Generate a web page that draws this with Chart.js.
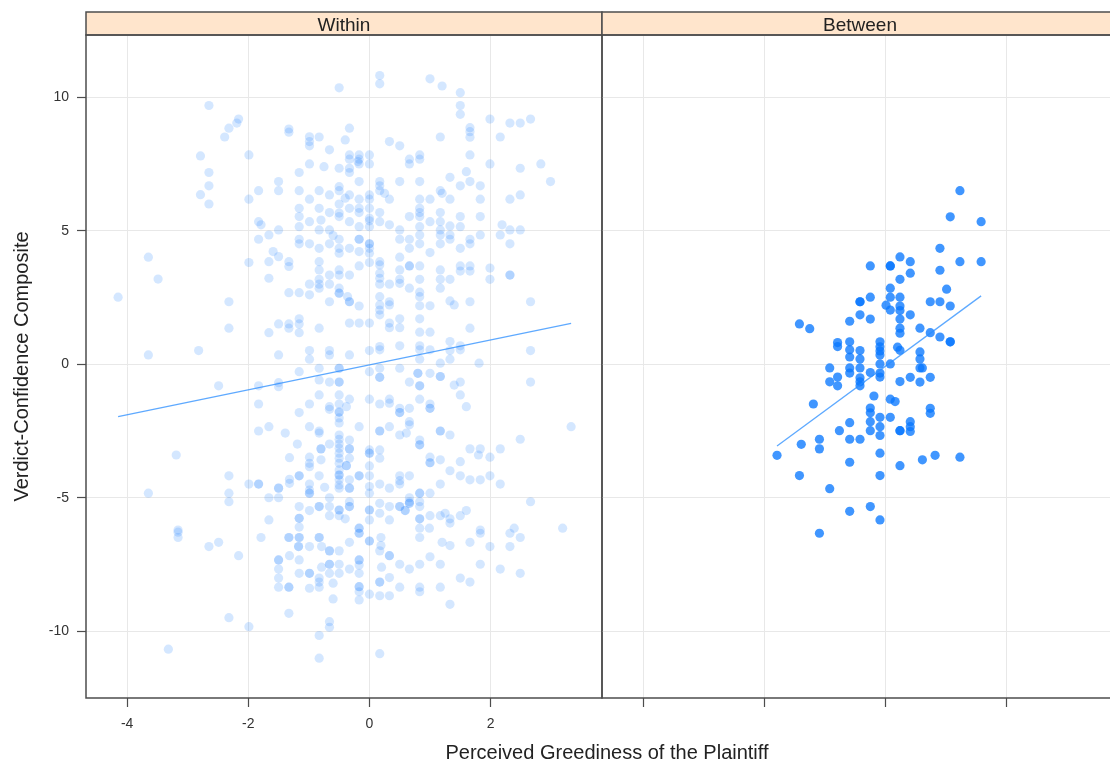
<!DOCTYPE html>
<html>
<head>
<meta charset="utf-8">
<title>Verdict confidence by perceived greediness</title>
<script src="https://cdn.jsdelivr.net/npm/chart.js@4.4.1/dist/chart.umd.min.js"></script>
<style>
  html, body { margin: 0; padding: 0; background: #ffffff; overflow: hidden; }
  #wrap { position: relative; width: 1110px; height: 764px; overflow: hidden; }
  canvas { position: absolute; top: 0; }
  #within { left: 0; }
  #between { left: 592px; }
  #xtitle {
    position: absolute; left: 307px; width: 600px; top: 741px;
    text-align: center; color: #222;
    font: 20px "Liberation Sans", Arial, sans-serif; line-height: 22px;
  }
</style>
</head>
<body>
<div id="wrap">
  <canvas id="within" width="612" height="764"></canvas>
  <canvas id="between" width="540" height="764"></canvas>
  <div id="xtitle">Perceived Greediness of the Plaintiff</div>
</div>
<script>
// ---- data -------------------------------------------------------------
const panelLabels = ['Within', 'Between'];
const xTicks = [-4, -2, 0, 2];
const yTicks = [-10, -5, 0, 5, 10];
const xRange = [-4.68, 3.84];
const yRange = [-12.5, 12.33];

// within-person deviations: [greediness, verdict-confidence]
const withinPoints = [
  [0.17,10.81],[0.17,10.50],[-0.50,10.35],[1.00,10.69],[1.20,10.42],[1.50,10.17],[1.50,9.69],[1.50,9.36],
  [-2.65,9.69],[-2.16,9.18],[-2.19,9.03],[-2.32,8.84],[-2.39,8.51],[-1.33,8.81],[-1.33,8.69],[-0.99,8.52],
  [-0.99,8.34],[-0.99,8.18],[-0.83,8.51],[-0.33,8.84],[-0.40,8.40],[-0.66,8.03],
  [1.99,9.18],[2.32,9.03],[2.49,9.03],[2.66,9.18],[1.66,8.86],[1.66,8.71],[1.66,8.50],[1.17,8.51],[2.16,8.51],
  [0.33,8.34],[0.50,8.18],
  [-2.79,7.80],[-2.65,7.18],[-2.65,6.68],[-2.79,6.35],[-2.65,6.00],[-1.99,7.84],[-1.99,6.18],[-1.83,6.50],
  [-1.50,6.84],[-1.50,6.50],[-1.16,7.18],[-1.16,6.50],[-1.16,5.84],[-1.16,5.53],[-0.99,7.50],[-0.99,6.18],
  [-0.83,6.50],[-0.83,5.84],[-0.75,7.40],[-0.66,6.34],[-0.66,5.68],
  [-0.50,7.34],[-0.50,6.65],[-0.50,6.50],[-0.50,6.00],[-0.50,5.66],[-0.50,5.53],
  [-0.33,7.84],[-0.33,7.68],[-0.33,7.34],[-0.33,7.18],[-0.33,6.34],[-0.40,6.22],[-0.33,5.84],
  [-0.17,7.84],[-0.17,7.68],[-0.19,7.59],[-0.17,7.50],[-0.17,6.84],[-0.17,6.18],[-0.17,5.84],[-0.17,5.68],
  [0,7.84],[0,7.50],[0,6.34],[0,6.18],[0,5.84],[0,5.47],
  [0.17,6.84],[0.17,6.68],[0.17,6.50],[0.25,6.40],[0.33,6.18],[0.17,5.68],[0.50,6.84],[0.66,7.68],[0.66,7.50],
  [0.83,7.84],[0.83,7.68],[0.83,6.84],[0.83,6.18],[0.83,5.84],[0.83,5.68],[0.83,5.53],[0.66,5.53],
  [1.00,6.18],[1.17,6.50],[1.20,6.40],[1.17,5.68],[1.33,7.00],[1.33,6.18],[1.50,6.68],[1.50,5.53],
  [1.60,7.21],[1.66,7.84],[1.66,6.84],[1.83,6.68],[1.83,6.18],[1.83,5.53],[1.99,7.50],[2.32,6.18],
  [2.49,7.34],[2.49,6.34],[2.83,7.50],[2.99,6.84],
  [0,5.37],[-0.99,5.34],[-0.80,5.40],[-0.33,5.34],[-0.17,5.15],[0,5.15],[0.17,5.34],[0.33,5.22],
  [0.83,5.15],[1.00,5.34],[1.17,5.34],[1.33,5.18],[1.50,5.15],[2.19,5.22],[2.32,5.03],[2.49,5.03],
  [2.16,4.84],[2.32,4.51],[-1.83,5.34],[-1.79,5.22],[-1.50,5.03],[-1.66,4.84],[-1.83,4.68],
  [-1.16,5.15],[-0.83,5.03],[-0.66,5.03],[-0.60,4.82],[-1.16,4.68],[-1.16,4.51],[-0.99,4.51],[-0.83,4.34],
  [-0.66,4.51],[-0.50,4.68],[-0.50,4.34],[-0.50,4.16],[-0.33,4.34],[-0.17,4.68],[-0.17,4.68],[-0.17,4.22],
  [0,4.51],[0,4.51],[0,4.34],[0,4.16],[0,3.81],[-0.17,3.68],
  [0.17,3.84],[0.17,3.72],[0.17,3.41],[0.17,3.22],[0.17,3.00],[0.17,2.53],[0.17,2.22],[0.17,2.03],[0.17,1.85],
  [0.50,5.03],[0.50,4.68],[0.66,4.68],[0.66,4.34],[0.83,4.84],[0.83,4.51],[1.00,4.18],
  [1.17,5.03],[1.17,4.84],[1.17,4.51],[1.33,4.84],[1.33,4.68],[1.50,4.34],[1.66,4.68],[1.66,4.51],[1.83,4.84],
  [0.50,4.01],[0.50,3.53],[0.50,3.18],[0.50,3.03],[0.66,3.68],[0.66,3.68],[0.66,2.85],[0.83,3.68],[0.83,3.18],
  [0.83,2.70],[0.83,2.53],[0.83,2.19],[1.00,2.19],[1.17,3.53],[1.17,3.18],[1.17,2.85],[1.33,3.18],
  [1.33,2.37],[1.40,2.22],[1.50,3.68],[1.50,3.49],[1.66,3.68],[1.66,3.49],[1.66,2.34],[1.99,3.60],
  [1.99,3.18],[2.32,3.34],[2.32,3.34],[2.66,2.34],
  [0.33,3.00],[0.33,2.34],[0.33,2.22],[0.33,1.54],[0.33,1.37],[0.50,1.70],[0.50,1.37],[0.83,1.70],
  [0.83,1.20],[1.00,1.20],[1.66,1.35],
  [-3.65,4.01],[-3.49,3.19],[-4.15,2.51],[-2.32,2.34],[-2.32,1.35],[-3.65,0.35],[-2.82,0.51],
  [-1.99,3.81],[-1.66,3.84],[-1.59,4.22],[-1.50,4.03],[-1.33,3.84],[-1.33,3.66],[-1.66,3.22],
  [-1.33,2.68],[-1.16,2.68],[-0.99,2.60],[-0.99,3.00],[-0.83,3.84],[-0.83,3.53],[-0.83,3.00],
  [-0.83,3.18],[-0.83,2.85],[-0.66,3.34],[-0.66,3.00],[-0.50,3.53],[-0.50,3.34],[-0.33,3.34],
  [-0.50,2.85],[-0.50,2.66],[-0.50,2.66],[-0.36,2.53],[-0.33,2.34],[-0.33,2.34],[-0.66,2.34],[-0.17,2.18],
  [-1.50,1.51],[-1.66,1.18],[-1.33,1.51],[-1.33,1.35],[-1.16,1.70],[-1.16,1.51],[-1.16,1.18],[-0.83,1.35],
  [-0.33,1.54],[-0.17,1.54],[0,1.54],[0.17,0.66],[0.17,0.54],[0,0.51],[0.50,0.69],[0.83,0.69],
  [0.83,0.54],[1.00,0.54],[0.83,0.19],[1.17,0.04],[1.33,0.85],[1.33,0.51],[1.33,0.19],[1.50,0.69],
  [1.50,0.54],[1.81,0.04],[2.66,0.51],[-1.50,0.35],[-0.99,0.51],[-0.99,0.19],[-0.66,0.51],[-0.66,0.35],
  [-0.33,0.35],[-0.83,-0.15],[-0.50,-0.15],[-0.50,-0.15],[-1.16,-0.28],[0,-0.28],[0.17,-0.15],
  [0.50,-0.15],[0.80,-0.34],[0.80,-0.34],[1.00,-0.34],
  [-2.49,-0.81],[-1.83,-0.81],[-1.50,-0.69],[-1.50,-0.84],[-0.83,-0.59],[-0.66,-0.67],[-0.50,-0.67],
  [-0.50,-0.67],[0.17,-0.49],[0.17,-0.49],[0.66,-0.67],[0.83,-0.81],[0.83,-0.81],[1.17,-0.46],[1.17,-0.46],
  [1.40,-0.78],[1.50,-0.67],[1.50,-1.15],[1.60,-1.59],[2.66,-0.67],
  [-1.83,-1.49],[-0.83,-1.15],[-0.99,-1.49],[-1.16,-1.81],[-0.66,-1.59],[-0.66,-1.69],
  [-0.50,-1.15],[-0.50,-1.49],[-0.50,-1.79],[-0.50,-1.79],[-0.50,-2.01],[-0.50,-2.20],[-0.38,-1.59],
  [-0.33,-1.31],[0,-1.31],[0.17,-1.49],[0.33,-1.31],[0.33,-1.46],[0.50,-1.65],[0.50,-1.81],[0.50,-1.81],
  [0.66,-1.65],[0.83,-1.31],[1.00,-1.49],[1.00,-1.65],[1.00,-1.65],[0.66,-2.15],[0.66,-2.27],
  [-1.83,-2.50],[-1.66,-2.34],[-1.39,-2.58],[-0.99,-2.34],[-0.83,-2.50],[-0.83,-2.58],[-0.17,-2.34],
  [0.17,-2.50],[0.17,-2.50],[0.33,-2.34],[0.50,-2.65],[0.61,-2.58],[1.17,-2.50],[1.17,-2.50],[1.33,-2.65],
  [0.83,-2.84],[0.83,-3.02],[0.83,-3.02],[-1.19,-2.99],[-0.66,-2.99],
  [-0.50,-2.65],[-0.50,-2.81],[-0.50,-2.99],[-0.50,-3.15],[-0.50,-3.33],[-0.50,-3.52],[-0.50,-3.71],
  [-0.50,-3.96],[-0.50,-4.15],[-0.50,-4.15],[-0.50,-4.33],[-0.50,-4.52],[-0.50,-4.64],
  [-0.33,-2.84],[-0.33,-3.17],[-0.33,-3.17],[-0.33,-3.52],[-0.38,-3.80],[-0.38,-3.80],[-0.80,-3.17],[-0.80,-3.17],
  [-0.80,-3.58],[-0.99,-3.48],[-0.99,-3.71],[-0.99,-3.84],[-1.32,-3.50],[-1.16,-4.18],[-1.16,-4.18],
  [-0.83,-4.18],[-0.99,-4.49],[-0.99,-4.71],[-0.99,-4.83],[-0.99,-4.83],[-1.32,-4.31],[-1.32,-4.46],
  [-1.50,-4.64],[-1.50,-4.64],[-1.83,-4.49],[-1.83,-4.49],[-1.99,-4.49],[-2.32,-4.18],[-2.32,-4.83],[-2.32,-5.15],
  [-1.66,-5.00],[-1.50,-5.00],[-3.19,-3.40],[-3.65,-4.83],[-0.74,-4.61],[-0.66,-5.00],
  [-0.33,-4.33],[-0.33,-4.64],[-0.33,-4.64],[-0.17,-4.18],[-0.17,-4.18],[0,-3.21],[0,-3.33],[0,-3.33],[0,-3.81],
  [0,-4.18],[0,-4.58],[0,-4.83],[0.17,-3.21],[0.17,-3.52],[0.17,-4.49],[0.33,-4.64],
  [0.50,-4.18],[0.50,-4.36],[0.50,-4.49],[0.66,-4.18],[0.83,-4.83],[0.83,-4.83],[0.66,-5.00],[0.66,-5.21],
  [0.66,-5.21],[1.00,-3.48],[1.00,-3.69],[1.00,-3.69],[1.17,-3.58],[1.00,-4.83],[1.17,-4.49],[1.33,-3.99],
  [1.50,-3.65],[1.50,-4.18],[1.66,-3.17],[1.66,-4.33],[1.83,-3.17],[1.80,-3.40],[1.83,-4.33],
  [1.99,-3.48],[1.99,-4.18],[2.16,-3.17],[2.16,-4.49],[2.49,-2.81],[3.33,-2.34],[2.66,-5.15],
  [-1.16,-5.33],[-0.83,-5.33],[-0.83,-5.33],[-0.66,-5.33],[-0.66,-5.67],[-0.50,-5.46],[-0.50,-5.46],
  [-0.33,-5.15],[-0.33,-5.33],[-0.33,-5.33],[-0.50,-5.67],[-0.40,-5.79],[0,-5.46],[0,-5.46],[0,-5.83],
  [0.17,-5.21],[0.17,-5.58],[0.33,-5.33],[0.33,-5.83],[0.50,-5.33],[0.50,-5.33],[0.59,-5.48],[0.59,-5.48],
  [0.66,-5.15],[0.83,-5.15],[0.83,-5.33],[0.83,-5.79],[0.83,-5.79],[1.00,-5.67],[1.17,-5.67],[1.25,-5.58],
  [1.33,-5.79],[1.33,-5.95],[1.50,-5.67],[1.60,-5.48],[-1.16,-5.77],[-1.16,-5.77],[-0.99,-5.48],
  [-1.66,-5.83],[-0.17,-6.14],[-0.17,-6.14],[-1.16,-6.10],[0.83,-6.14],[0.99,-6.14],[2.39,-6.14],
  [3.19,-6.14],[1.83,-6.21],[-3.16,-6.21],
  [-3.16,-6.29],[-3.16,-6.49],[-2.65,-6.83],[-2.49,-6.67],[-2.16,-7.17],[-1.79,-6.49],
  [-1.33,-6.49],[-1.33,-6.49],[-1.16,-6.49],[-1.16,-6.49],[-1.17,-6.83],[-1.17,-6.83],[-0.99,-6.83],
  [-0.83,-6.49],[-0.83,-6.49],[-0.79,-6.83],[-0.66,-6.99],[-0.66,-6.99],[-0.50,-6.99],[-0.33,-6.67],
  [-0.17,-6.33],[-0.17,-6.33],[0,-6.62],[0,-6.62],[0.19,-6.49],[0.19,-6.79],[0.17,-6.99],
  [0.33,-7.17],[0.33,-7.17],[0.83,-6.49],[1.20,-6.67],[1.33,-6.79],[1.66,-6.67],[1.83,-6.33],[1.99,-6.83],
  [2.32,-6.33],[2.32,-6.83],[2.49,-6.49],
  [-1.50,-7.33],[-1.50,-7.33],[-1.50,-7.67],[-1.50,-8.01],[-1.50,-8.35],[-1.32,-7.17],[-1.33,-8.35],
  [-1.33,-8.35],[-1.16,-7.33],[-1.16,-7.83],[-0.99,-7.83],[-0.99,-7.83],[-0.99,-8.39],[-0.83,-8.01],
  [-0.83,-8.16],[-0.83,-8.35],[-0.79,-7.60],[-0.66,-7.49],[-0.66,-7.49],[-0.66,-7.83],[-0.60,-8.20],
  [-0.60,-8.79],[-0.50,-7.49],[-0.50,-7.83],[-0.33,-7.67],[-0.17,-7.33],[-0.17,-7.33],[-0.17,-7.52],
  [-0.17,-7.83],[-0.17,-8.33],[-0.17,-8.33],[-0.17,-8.52],[-0.17,-8.83],[0,-8.61],[0.17,-8.16],
  [0.17,-8.16],[0.17,-8.67],[0.20,-7.60],[0.33,-7.99],[0.33,-8.67],[0.50,-7.49],[0.50,-8.35],
  [0.66,-7.67],[0.83,-7.49],[0.83,-8.35],[0.83,-8.52],[1.00,-7.21],[1.17,-7.49],[1.17,-8.35],
  [1.33,-8.99],[1.50,-8.01],[1.66,-8.16],[1.83,-7.49],[2.16,-7.67],[2.49,-7.83],
  [-1.33,-9.33],[-2.32,-9.49],[-1.99,-9.83],[-0.66,-9.64],[-0.66,-9.85],[-0.83,-10.16],[-3.32,-10.67],
  [-0.83,-11.01],[0.17,-10.84]
];

// person-level means: [greediness, verdict-confidence]
const betweenPoints = [
  [1.23,6.50],[1.07,5.52],[1.58,5.34],[0.90,4.34],[1.23,3.84],[1.58,3.84],[0.90,3.52],[0.24,4.02],
  [0.41,3.84],[0.41,3.41],[-0.25,3.68],[0.08,3.68],[0.08,3.68],[0.24,3.18],[0.08,2.85],[1.01,2.81],
  [-0.25,2.51],[0.08,2.51],[0.24,2.51],[-0.42,2.34],[-0.42,2.34],[0.74,2.34],[0.90,2.34],[1.07,2.18],
  [0.01,2.21],[0.08,2.03],[0.24,2.18],[0.24,2.01],[-0.42,1.85],[-0.25,1.69],[0.41,1.85],[0.24,1.69],
  [-0.59,1.61],[-1.42,1.51],[-1.25,1.33],[0.24,1.35],[0.24,1.16],[0.57,1.35],[0.74,1.18],[0.90,1.02],
  [1.07,0.84],[1.07,0.84],[-0.79,0.81],[-0.79,0.66],
  [-0.59,0.84],[-0.59,0.54],[-0.59,0.27],[-0.59,-0.14],[-0.59,-0.33],
  [-0.42,0.51],[-0.42,0.20],[-0.42,-0.14],[-0.42,-0.51],[-0.42,-0.66],[-0.42,-0.81],
  [-0.09,0.84],[-0.09,0.65],[-0.09,0.50],[-0.09,0.35],[-0.09,0.01],[-0.09,-0.33],[-0.09,-0.48],
  [0.20,0.64],[0.24,0.52],[0.57,0.46],[0.57,0.20],[0.57,-0.14],[0.61,-0.14],
  [-0.92,-0.14],[-0.92,-0.66],[-0.79,-0.48],[-0.79,-0.81],[-0.25,-0.31],[0.08,0.01],[0.24,-0.65],
  [0.41,-0.49],[0.57,-0.67],[0.74,-0.49],
  [-0.19,-1.19],[0.08,-1.31],[0.16,-1.40],[-1.19,-1.49],[-0.25,-1.64],[-0.25,-1.82],[-0.09,-1.99],
  [0.08,-1.99],[-0.25,-2.15],[-0.59,-2.19],[-0.09,-2.34],[-0.25,-2.49],[-0.09,-2.67],[-0.76,-2.49],
  [0.24,-2.49],[0.24,-2.49],[0.41,-2.15],[0.41,-2.34],[0.41,-2.52],[0.74,-1.65],[0.74,-1.84],
  [-0.59,-2.81],[-0.42,-2.81],[-1.09,-2.81],[-1.09,-3.17],[-1.39,-3.00],[-1.79,-3.41],[-0.09,-3.33],
  [0.82,-3.41],[0.61,-3.58],[1.23,-3.48],[-0.59,-3.67],[0.24,-3.80],[-1.42,-4.17],[-0.09,-4.17],
  [-0.92,-4.66],[-0.25,-5.33],[-0.59,-5.51],[-0.09,-5.83],[-1.09,-6.33]
];

// least-squares fit lines, drawn over each panel's data span
const withinFitX = [-4.15, 3.33];
const withinFitY = [-1.96, 1.53];
const betweenFitX = [-1.79, 1.58];
const betweenFitY = [-3.06, 2.56];

// ---- drawing ----------------------------------------------------------
const FONT = '"Liberation Sans", Arial, Helvetica, sans-serif';
const FRAME = '#4d4d4d';
const GRID = '#e8e8e8';
const TEXT = '#333333';

// strip header above each panel plus the panel frame
const panelFrame = {
  id: 'panelFrame',
  afterDraw(chart, args, opts) {
    const { ctx, chartArea: a } = chart;
    const stripH = 23;
    ctx.save();
    ctx.fillStyle = '#ffe5cc';
    ctx.fillRect(a.left, a.top - stripH, a.right - a.left, stripH);
    ctx.strokeStyle = FRAME;
    ctx.lineWidth = 1.5;
    ctx.strokeRect(a.left, a.top - stripH, a.right - a.left, stripH);
    ctx.strokeRect(a.left, a.top, a.right - a.left, a.bottom - a.top);
    ctx.fillStyle = '#222';
    ctx.font = '19px ' + FONT;
    ctx.textAlign = 'center';
    ctx.textBaseline = 'alphabetic';
    ctx.fillText(opts.label, (a.left + a.right) / 2, a.top - 4);
    ctx.restore();
  }
};

function toXY(xs, ys) { return xs.map((x, i) => ({ x: x, y: ys[i] })); }

function makePanel(id, cfg) {
  return new Chart(document.getElementById(id), {
    type: 'scatter',
    data: {
      datasets: [
        {
          type: 'line',
          data: toXY(cfg.fitX, cfg.fitY),
          borderColor: 'rgba(40,140,255,0.75)',
          borderWidth: 1.3,
          pointRadius: 0,
          fill: false,
          order: 0
        },
        {
          data: cfg.points.map(p => ({ x: p[0], y: p[1] })),
          backgroundColor: cfg.pointColor,
          borderWidth: 0,
          pointRadius: 4.6,
          pointHoverRadius: 4.6,
          order: 1
        }
      ]
    },
    plugins: [panelFrame],
    options: {
      responsive: false,
      animation: false,
      devicePixelRatio: 1,
      events: [],
      layout: { padding: cfg.padding },
      plugins: {
        legend: { display: false },
        tooltip: { enabled: false },
        panelFrame: { label: cfg.label }
      },
      scales: {
        x: {
          type: 'linear',
          min: xRange[0],
          max: xRange[1],
          afterBuildTicks: s => { s.ticks = xTicks.map(v => ({ value: v })); },
          afterFit: s => { s.height = 66; },
          border: { display: false },
          grid: { color: GRID, lineWidth: 1, tickColor: FRAME, tickLength: 9, tickWidth: 1.2 },
          ticks: {
            autoSkip: false, maxRotation: 0, padding: 9,
            color: TEXT, font: { family: FONT, size: 14 },
            callback: v => cfg.showXLabels ? String(v) : ''
          }
        },
        y: {
          type: 'linear',
          min: yRange[0],
          max: yRange[1],
          afterBuildTicks: s => { s.ticks = yTicks.map(v => ({ value: v })); },
          afterFit: s => { s.width = cfg.yAxisWidth; },
          border: { display: false },
          grid: {
            color: GRID, lineWidth: 1, tickColor: FRAME, tickLength: 9, tickWidth: 1.2,
            drawTicks: cfg.showY
          },
          ticks: {
            display: cfg.showY, padding: 8,
            color: TEXT, font: { family: FONT, size: 14 },
            callback: v => String(v)
          },
          title: {
            display: cfg.showY,
            text: 'Verdict-Confidence Composite',
            color: '#222',
            font: { family: FONT, size: 20 },
            padding: { top: 10, bottom: 0 }
          }
        }
      }
    }
  });
}

makePanel('within', {
  label: panelLabels[0],
  points: withinPoints,
  fitX: withinFitX, fitY: withinFitY,
  pointColor: 'rgba(0,110,255,0.17)',
  padding: { left: 0, right: 10, top: 35, bottom: 0 },
  yAxisWidth: 86,
  showY: true,
  showXLabels: true
});

makePanel('between', {
  label: panelLabels[1],
  points: betweenPoints,
  fitX: betweenFitX, fitY: betweenFitY,
  pointColor: 'rgba(10,120,255,0.78)',
  padding: { left: 10, right: 14, top: 35, bottom: 0 },
  yAxisWidth: 0,
  showY: false,
  showXLabels: false
});
</script>
</body>
</html>
